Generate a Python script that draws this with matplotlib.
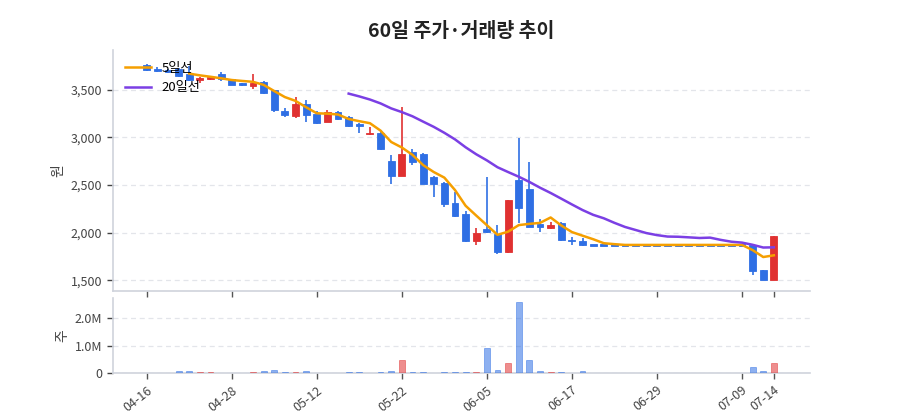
import matplotlib
matplotlib.use('Agg')
import matplotlib.pyplot as plt
from matplotlib.ticker import FuncFormatter
import numpy as np
import pandas as pd

plt.rcParams['font.family'] = ['Noto Sans CJK KR', 'DejaVu Sans']

# 60 trading days
opens = [3760, 3710, 3705, 3720, 3665, 3605, 3610, 3660, 3610, 3560,
         3535, 3580, 3495, 3275, 3225, 3350, 3245, 3160, 3265, 3210,
         3130, 3030, 3045, 2755, 2595, 2840, 2825, 2585, 2520, 2310,
         2190, 1910, 2035, 1985, 1795, 2550, 2455, 2090, 2045, 2105,
         1920, 1910, 1870, 1870, 1870, 1870, 1870, 1870, 1870, 1870,
         1870, 1870, 1870, 1870, 1870, 1870, 1870, 1870, 1610, 1505]
highs = [3770, 3735, 3715, 3730, 3750, 3630, 3635, 3680, 3615, 3570,
         3660, 3590, 3500, 3310, 3420, 3390, 3270, 3290, 3270, 3220,
         3150, 3110, 3050, 2810, 3320, 2875, 2830, 2590, 2525, 2420,
         2230, 2050, 2580, 2080, 2345, 2990, 2735, 2140, 2115, 2110,
         1955, 1945, 1870, 1870, 1870, 1870, 1870, 1870, 1870, 1870,
         1870, 1870, 1870, 1870, 1870, 1870, 1870, 1870, 1610, 1960]
lows = [3695, 3680, 3670, 3630, 3590, 3570, 3600, 3590, 3545, 3535,
        3510, 3455, 3265, 3210, 3200, 3160, 3140, 3155, 3185, 3110,
        3045, 3025, 2870, 2505, 2590, 2710, 2505, 2375, 2270, 2165,
        1905, 1870, 2000, 1775, 1790, 2100, 2055, 2010, 2035, 1910,
        1870, 1860, 1870, 1870, 1870, 1870, 1870, 1870, 1870, 1870,
        1870, 1870, 1870, 1870, 1870, 1870, 1870, 1555, 1500, 1500]
closes = [3705, 3700, 3690, 3640, 3600, 3615, 3625, 3610, 3550, 3550,
          3570, 3465, 3285, 3235, 3350, 3235, 3150, 3265, 3190, 3115,
          3120, 3045, 2875, 2595, 2825, 2735, 2510, 2510, 2300, 2175,
          1910, 1995, 2005, 1795, 2340, 2255, 2060, 2055, 2080, 1920,
          1910, 1870, 1870, 1870, 1870, 1870, 1870, 1870, 1870, 1870,
          1870, 1870, 1870, 1870, 1870, 1870, 1870, 1600, 1505, 1960]
volumes = [20e3, 15e3, 15e3, 85e3, 85e3, 50e3, 30e3, 20e3, 20e3, 20e3,
           45e3, 85e3, 120e3, 45e3, 30e3, 70e3, 20e3, 10e3, 20e3, 30e3,
           40e3, 20e3, 50e3, 80e3, 485e3, 40e3, 40e3, 20e3, 45e3, 30e3,
           40e3, 40e3, 910e3, 110e3, 390e3, 2600e3, 475e3, 80e3, 45e3, 45e3,
           25e3, 100e3, 0, 0, 0, 0, 0, 0, 0, 0,
           0, 0, 0, 0, 0, 0, 0, 220e3, 75e3, 365e3]

tick_idx = [0, 8, 16, 24, 32, 40, 48, 56, 59]
tick_labels = ['04-16', '04-28', '05-12', '05-22', '06-05',
               '06-17', '06-29', '07-09', '07-14']

UP = '#e03131'
DOWN = '#2f6fe4'
GRID = '#e3e5ea'
SPINE = '#cfd3dc'
TXT = '#444444'

o = np.array(opens, dtype=float)
h = np.array(highs, dtype=float)
l = np.array(lows, dtype=float)
c = np.array(closes, dtype=float)
x = np.arange(len(c))
cols = [UP if cc > oo else DOWN for oo, cc in zip(o, c)]

ma5 = pd.Series(c).rolling(5).mean()
ma20 = pd.Series(c).rolling(20).mean()

fig = plt.figure(figsize=(9, 4.2), dpi=100)
ax = fig.add_axes([0.1252, 0.3079, 0.7748, 0.5731])
axv = fig.add_axes([0.1252, 0.1112, 0.7748, 0.1793], sharex=ax)

# candles
body = np.abs(c - o)
bh = np.maximum(body, 18)
bottom = np.minimum(o, c) - (bh - body) / 2
ax.vlines(x, l, h, colors=cols, linewidth=1.2, zorder=2)
ax.bar(x, bh, bottom=bottom, width=0.65, color=cols, edgecolor=cols,
       linewidth=0.6, zorder=3)

ax.plot(x, ma5, color='#f59f00', linewidth=1.8, label='5일선', zorder=4)
ax.plot(x, ma20, color='#7b3fe4', linewidth=1.8, label='20일선', zorder=4)

ax.set_ylim(1390, 3915)
ax.set_xlim(-3.2, 62.4)
ax.yaxis.set_major_locator(plt.FixedLocator([1500, 2000, 2500, 3000, 3500]))
ax.yaxis.set_major_formatter(FuncFormatter(lambda v, p: f'{int(v):,}'))
ax.set_ylabel('원', fontsize=10, color=TXT, labelpad=4)
ax.legend(loc='upper left', frameon=False, fontsize=9.5, handlelength=2.0,
          borderaxespad=0.5, labelspacing=0.5)

# volume
vcols = [UP if cc > oo else DOWN for oo, cc in zip(o, c)]
axv.bar(x, volumes, width=0.55, color=vcols, edgecolor=vcols, linewidth=0.6,
        alpha=0.55, zorder=3)
axv.set_ylim(0, 2.74e6)
axv.yaxis.set_major_locator(plt.FixedLocator([0, 1e6, 2e6]))
axv.yaxis.set_major_formatter(
    FuncFormatter(lambda v, p: '0' if v == 0 else f'{v / 1e6:.1f}M'))
axv.set_ylabel('주', fontsize=10, color=TXT, labelpad=4)

axv.set_xticks(tick_idx)
axv.set_xticklabels(tick_labels, rotation=38, ha='right', rotation_mode='anchor')
plt.setp(ax.get_xticklabels(), visible=False)

for a in (ax, axv):
    a.grid(axis='y', color=GRID, linestyle=(0, (4, 3)), linewidth=0.9, zorder=0)
    a.set_axisbelow(True)
    for s in ('top', 'right'):
        a.spines[s].set_visible(False)
    for s in ('left', 'bottom'):
        a.spines[s].set_color(SPINE)
        a.spines[s].set_linewidth(1.2)
    a.tick_params(axis='both', colors=TXT, labelsize=9, length=4, width=1)
    a.tick_params(axis='x', color='#555555')

fig.text(0.5126, 0.924, '60일 주가·거래량 추이', ha='center', va='center',
         fontsize=14, fontweight='bold', color='#222222')

fig.savefig('out.png', dpi=100)
